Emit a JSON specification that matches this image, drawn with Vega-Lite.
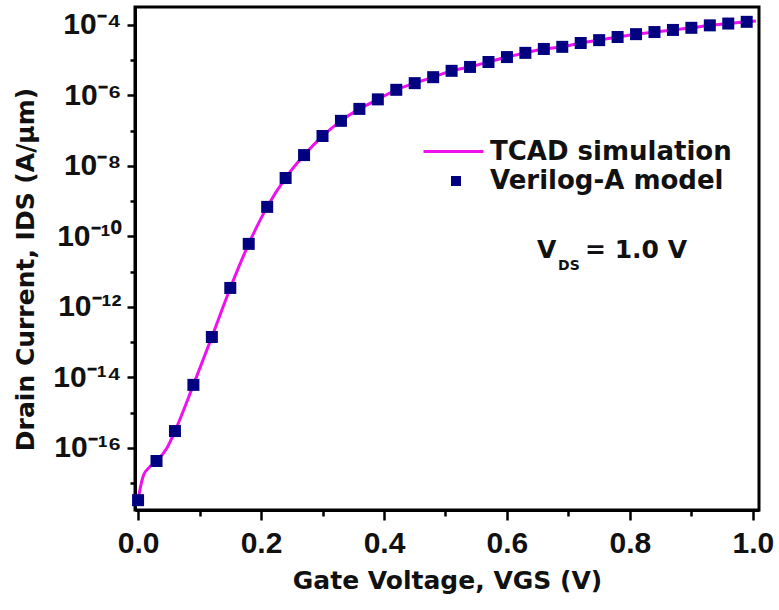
{
  "$schema": "https://vega.github.io/schema/vega-lite/v6.json",
  "autosize": "none",
  "width": 624,
  "height": 503,
  "padding": {"left": 135, "top": 7, "right": 20, "bottom": 100},
  "background": "white",
  "config": {
    "view": {"stroke": "#000000", "strokeWidth": 3},
    "axis": {"domainColor": "#000000", "domainWidth": 3, "tickColor": "#000000", "tickWidth": 2.5, "grid": false, "labelColor": "#111111", "titleColor": "#111111"}
  },
  "datasets": {
    "tcad": [
      {"v": 0.0, "i": 3.31e-18, "s": "TCAD simulation"},
      {"v": 0.003, "i": 6.46e-18, "s": "TCAD simulation"},
      {"v": 0.009, "i": 1.70e-17, "s": "TCAD simulation"},
      {"v": 0.017, "i": 2.69e-17, "s": "TCAD simulation"},
      {"v": 0.03, "i": 4.27e-17, "s": "TCAD simulation"},
      {"v": 0.047, "i": 1.0e-16, "s": "TCAD simulation"},
      {"v": 0.06, "i": 3.02e-16, "s": "TCAD simulation"},
      {"v": 0.09, "i": 6.17e-15, "s": "TCAD simulation"},
      {"v": 0.12, "i": 1.41e-13, "s": "TCAD simulation"},
      {"v": 0.15, "i": 3.47e-12, "s": "TCAD simulation"},
      {"v": 0.18, "i": 6.17e-11, "s": "TCAD simulation"},
      {"v": 0.21, "i": 6.92e-10, "s": "TCAD simulation"},
      {"v": 0.24, "i": 4.57e-9, "s": "TCAD simulation"},
      {"v": 0.27, "i": 2.04e-8, "s": "TCAD simulation"},
      {"v": 0.30, "i": 7.08e-8, "s": "TCAD simulation"},
      {"v": 0.33, "i": 1.91e-7, "s": "TCAD simulation"},
      {"v": 0.36, "i": 4.17e-7, "s": "TCAD simulation"},
      {"v": 0.39, "i": 7.76e-7, "s": "TCAD simulation"},
      {"v": 0.42, "i": 1.45e-6, "s": "TCAD simulation"},
      {"v": 0.45, "i": 2.24e-6, "s": "TCAD simulation"},
      {"v": 0.48, "i": 3.31e-6, "s": "TCAD simulation"},
      {"v": 0.51, "i": 5.01e-6, "s": "TCAD simulation"},
      {"v": 0.54, "i": 6.46e-6, "s": "TCAD simulation"},
      {"v": 0.57, "i": 8.91e-6, "s": "TCAD simulation"},
      {"v": 0.60, "i": 1.23e-5, "s": "TCAD simulation"},
      {"v": 0.63, "i": 1.62e-5, "s": "TCAD simulation"},
      {"v": 0.66, "i": 2.09e-5, "s": "TCAD simulation"},
      {"v": 0.69, "i": 2.40e-5, "s": "TCAD simulation"},
      {"v": 0.72, "i": 3.09e-5, "s": "TCAD simulation"},
      {"v": 0.75, "i": 3.72e-5, "s": "TCAD simulation"},
      {"v": 0.78, "i": 4.57e-5, "s": "TCAD simulation"},
      {"v": 0.81, "i": 5.50e-5, "s": "TCAD simulation"},
      {"v": 0.84, "i": 6.31e-5, "s": "TCAD simulation"},
      {"v": 0.87, "i": 7.24e-5, "s": "TCAD simulation"},
      {"v": 0.90, "i": 8.32e-5, "s": "TCAD simulation"},
      {"v": 0.93, "i": 9.77e-5, "s": "TCAD simulation"},
      {"v": 0.96, "i": 1.10e-4, "s": "TCAD simulation"},
      {"v": 0.99, "i": 1.23e-4, "s": "TCAD simulation"},
      {"v": 1.005, "i": 1.30e-4, "s": "TCAD simulation"}
    ],
    "model": [
      {"v": 0.0, "i": 3.31e-18, "s": "Verilog-A model"},
      {"v": 0.03, "i": 4.27e-17, "s": "Verilog-A model"},
      {"v": 0.06, "i": 3.02e-16, "s": "Verilog-A model"},
      {"v": 0.09, "i": 6.17e-15, "s": "Verilog-A model"},
      {"v": 0.12, "i": 1.41e-13, "s": "Verilog-A model"},
      {"v": 0.15, "i": 3.47e-12, "s": "Verilog-A model"},
      {"v": 0.18, "i": 6.17e-11, "s": "Verilog-A model"},
      {"v": 0.21, "i": 6.92e-10, "s": "Verilog-A model"},
      {"v": 0.24, "i": 4.57e-9, "s": "Verilog-A model"},
      {"v": 0.27, "i": 2.04e-8, "s": "Verilog-A model"},
      {"v": 0.30, "i": 7.08e-8, "s": "Verilog-A model"},
      {"v": 0.33, "i": 1.91e-7, "s": "Verilog-A model"},
      {"v": 0.36, "i": 4.17e-7, "s": "Verilog-A model"},
      {"v": 0.39, "i": 7.76e-7, "s": "Verilog-A model"},
      {"v": 0.42, "i": 1.45e-6, "s": "Verilog-A model"},
      {"v": 0.45, "i": 2.24e-6, "s": "Verilog-A model"},
      {"v": 0.48, "i": 3.31e-6, "s": "Verilog-A model"},
      {"v": 0.51, "i": 5.01e-6, "s": "Verilog-A model"},
      {"v": 0.54, "i": 6.46e-6, "s": "Verilog-A model"},
      {"v": 0.57, "i": 8.91e-6, "s": "Verilog-A model"},
      {"v": 0.60, "i": 1.23e-5, "s": "Verilog-A model"},
      {"v": 0.63, "i": 1.62e-5, "s": "Verilog-A model"},
      {"v": 0.66, "i": 2.09e-5, "s": "Verilog-A model"},
      {"v": 0.69, "i": 2.40e-5, "s": "Verilog-A model"},
      {"v": 0.72, "i": 3.09e-5, "s": "Verilog-A model"},
      {"v": 0.75, "i": 3.72e-5, "s": "Verilog-A model"},
      {"v": 0.78, "i": 4.57e-5, "s": "Verilog-A model"},
      {"v": 0.81, "i": 5.50e-5, "s": "Verilog-A model"},
      {"v": 0.84, "i": 6.31e-5, "s": "Verilog-A model"},
      {"v": 0.87, "i": 7.24e-5, "s": "Verilog-A model"},
      {"v": 0.90, "i": 8.32e-5, "s": "Verilog-A model"},
      {"v": 0.93, "i": 9.77e-5, "s": "Verilog-A model"},
      {"v": 0.96, "i": 1.10e-4, "s": "Verilog-A model"},
      {"v": 0.99, "i": 1.23e-4, "s": "Verilog-A model"}
    ]
  },
  "encoding": {
    "x": {
      "field": "v", "type": "quantitative",
      "scale": {"domain": [-0.005, 1.01], "nice": false, "zero": false},
      "axis": {
        "values": [0, 0.1, 0.2, 0.3, 0.4, 0.5, 0.6, 0.7, 0.8, 0.9, 1.0],
        "labelExpr": "round(datum.value*10) % 2 == 0 ? format(datum.value, '.1f') : ''",
        "labelOverlap": false, "labelFlush": false,
        "tickSize": {"condition": {"test": "round(datum.value*10) % 2 == 0", "value": 10}, "value": 6},
        "labelFont": "Liberation Sans", "labelFontWeight": "bold", "labelFontSize": 30, "labelPadding": 8,
        "title": "Gate Voltage, VGS (V)",
        "titleFont": "DejaVu Sans", "titleFontWeight": "bold", "titleFontSize": 25,
        "titleX": 312, "titleY": 78, "titleBaseline": "alphabetic", "titleAlign": "center"
      }
    },
    "y": {
      "field": "i", "type": "quantitative",
      "scale": {"type": "log", "domain": [1.74e-18, 3.24e-4], "nice": false},
      "axis": {
        "values": [1e-17, 1e-16, 1e-15, 1e-14, 1e-13, 1e-12, 1e-11, 1e-10, 1e-9, 1e-8, 1e-7, 1e-6, 1e-5, 1e-4],
        "labelExpr": "abs(round(log(datum.value)/LN10)) % 2 == 0 ? ('10⁻' + (abs(round(log(datum.value)/LN10)) >= 10 ? '¹' + ['⁰','¹','²','³','⁴','⁵','⁶','⁷','⁸','⁹'][abs(round(log(datum.value)/LN10)) - 10] : ['⁰','¹','²','³','⁴','⁵','⁶','⁷','⁸','⁹'][abs(round(log(datum.value)/LN10))])) : ''",
        "labelOverlap": false, "labelFlush": false,
        "tickSize": {"condition": {"test": "abs(round(log(datum.value)/LN10)) % 2 == 0", "value": 8}, "value": 5},
        "labelFont": "Liberation Sans", "labelFontWeight": "bold", "labelFontSize": 30, "labelPadding": 6,
        "title": "Drain Current, IDS (A/μm)",
        "titleFont": "DejaVu Sans", "titleFontWeight": "bold", "titleFontSize": 25,
        "titleX": -110, "titleY": 262, "titleBaseline": "middle", "titleAlign": "center", "titleAngle": -90
      }
    }
  },
  "layer": [
    {
      "data": {"name": "tcad"},
      "mark": {"type": "line", "strokeWidth": 3, "interpolate": "monotone", "clip": true},
      "encoding": {
        "color": {
          "field": "s", "type": "nominal",
          "scale": {"domain": ["TCAD simulation"], "range": ["#ee11ee"]},
          "legend": {
            "title": null, "orient": "none", "legendX": 287, "legendY": 113, "padding": 0,
            "symbolType": "stroke", "symbolSize": 3600, "symbolStrokeWidth": 3, "labelOffset": 5, "labelLimit": 400,
            "labelFont": "DejaVu Sans", "labelFontWeight": "bold", "labelFontSize": 26, "labelColor": "#111111"
          }
        }
      }
    },
    {
      "data": {"name": "model"},
      "mark": {"type": "point", "filled": true, "size": 144, "color": "#000080", "opacity": 1},
      "encoding": {
        "shape": {
          "field": "s", "type": "nominal",
          "scale": {"domain": ["Verilog-A model"], "range": ["square"]},
          "legend": {
            "title": null, "orient": "none", "legendX": 308, "legendY": 161, "padding": 0,
            "symbolSize": 100, "symbolFillColor": "#000080", "symbolStrokeColor": "#000080", "symbolStrokeWidth": 0, "symbolOpacity": 1, "labelOffset": 21, "labelLimit": 400,
            "labelFont": "DejaVu Sans", "labelFontWeight": "bold", "labelFontSize": 26, "labelColor": "#111111"
          }
        }
      }
    },
    {
      "data": {"values": [{"v": 0.649, "i": 2.45e-11, "t": "V"}]},
      "mark": {"type": "text", "align": "left", "baseline": "alphabetic", "font": "DejaVu Sans", "fontWeight": "bold", "fontSize": 25, "color": "#111111"},
      "encoding": {"text": {"field": "t"}}
    },
    {
      "data": {"values": [{"v": 0.649, "i": 2.45e-11, "t": "DS"}]},
      "mark": {"type": "text", "align": "left", "baseline": "alphabetic", "dx": 21, "dy": 12, "font": "DejaVu Sans", "fontWeight": "bold", "fontSize": 14, "color": "#111111"},
      "encoding": {"text": {"field": "t"}}
    },
    {
      "data": {"values": [{"v": 0.649, "i": 2.45e-11, "t": "= 1.0 V"}]},
      "mark": {"type": "text", "align": "left", "baseline": "alphabetic", "dx": 48, "font": "DejaVu Sans", "fontWeight": "bold", "fontSize": 25, "color": "#111111"},
      "encoding": {"text": {"field": "t"}}
    }
  ]
}
